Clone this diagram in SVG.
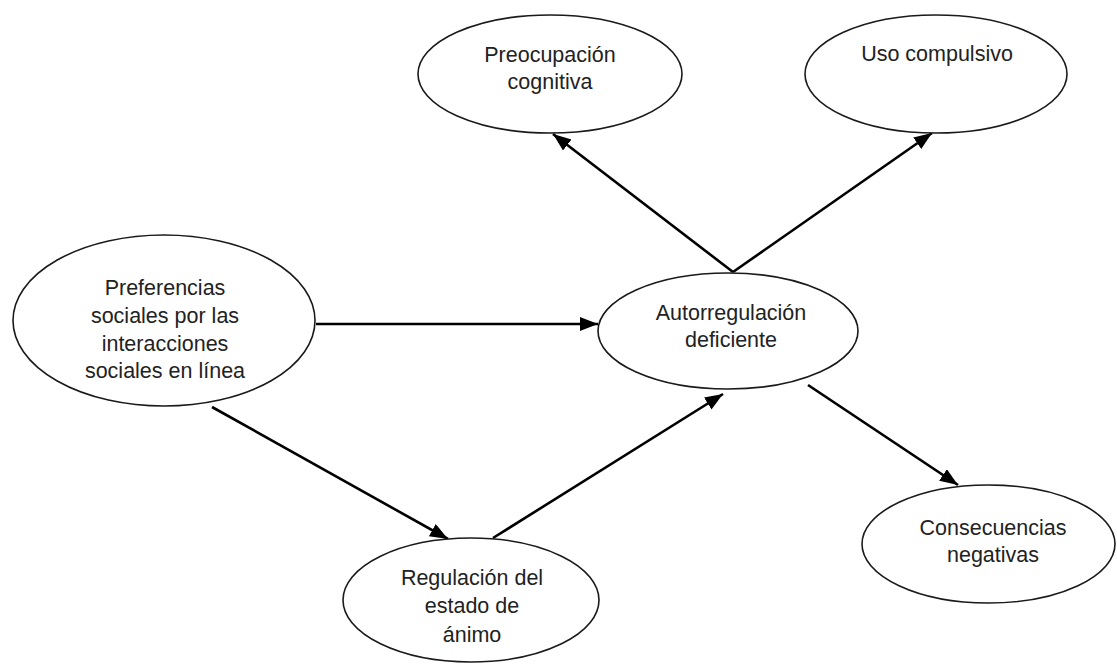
<svg xmlns="http://www.w3.org/2000/svg" width="1117" height="664" viewBox="0 0 1117 664">
<style>
.node ellipse{fill:#fff;stroke:#1a1a1a;stroke-width:1.6}
.node text{font-family:"Liberation Sans",Arial,sans-serif;font-size:21.5px;fill:#222;text-anchor:middle}
.conn line{stroke:#000;stroke-width:2.6;marker-end:url(#arr)}
</style>
<defs>
<marker id="arr" markerUnits="userSpaceOnUse" markerWidth="20" markerHeight="16" refX="18" refY="7" orient="auto">
<path d="M0,0 L18,7 L0,14 z" fill="#000"/>
</marker>
</defs>
<rect width="1117" height="664" fill="#fff"/>
<g id="connectors" class="conn">
<line x1="316" y1="324" x2="598" y2="324"/>
<line x1="733" y1="272" x2="553" y2="134"/>
<line x1="733" y1="272" x2="932" y2="133"/>
<line x1="212" y1="407" x2="448" y2="539"/>
<line x1="493" y1="538" x2="723" y2="394"/>
<line x1="808" y1="385" x2="958" y2="485"/>
</g>
<g id="preocupacion" class="node">
<ellipse cx="550" cy="74" rx="132" ry="59"/>
<text x="550" y="62">Preocupación</text>
<text x="550" y="89">cognitiva</text>
</g>
<g id="uso" class="node">
<ellipse cx="936" cy="74" rx="131" ry="59"/>
<text x="937" y="61">Uso compulsivo</text>
</g>
<g id="preferencias" class="node">
<ellipse cx="164" cy="320.5" rx="151" ry="85.5"/>
<text x="165" y="295">Preferencias</text>
<text x="165" y="323">sociales por las</text>
<text x="165" y="351">interacciones</text>
<text x="165" y="378">sociales en línea</text>
</g>
<g id="autorregulacion" class="node">
<ellipse cx="728" cy="331" rx="130" ry="58"/>
<text x="731" y="320">Autorregulación</text>
<text x="731" y="347">deficiente</text>
</g>
<g id="regulacion" class="node">
<ellipse cx="471" cy="600" rx="128" ry="62"/>
<text x="472" y="585">Regulación del</text>
<text x="472" y="613">estado de</text>
<text x="472" y="642">ánimo</text>
</g>
<g id="consecuencias" class="node">
<ellipse cx="988.5" cy="544" rx="126.5" ry="59"/>
<text x="993" y="535">Consecuencias</text>
<text x="993" y="562">negativas</text>
</g>
</svg>
